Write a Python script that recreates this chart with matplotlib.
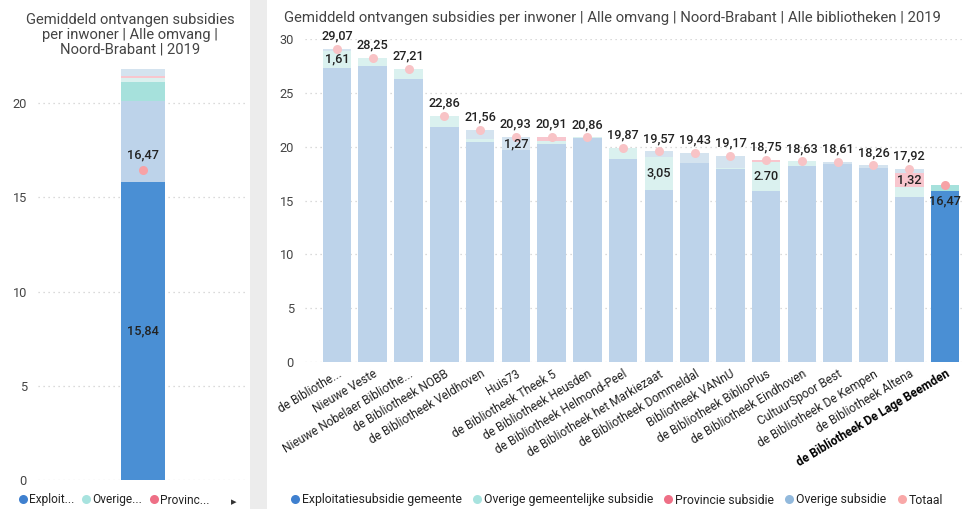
import matplotlib
matplotlib.use("Agg")
import matplotlib.pyplot as plt
from matplotlib.patches import Rectangle
from matplotlib.lines import Line2D
import numpy as np

plt.rcParams['font.family'] = ['Roboto', 'DejaVu Sans']

# ---------------- data ----------------
libraries = [
    "de Bibliothe...", "Nieuwe Veste", "Nieuwe Nobelaer Bibliothe...",
    "de Bibliotheek NOBB", "de Bibliotheek Veldhoven", "Huis73",
    "de Bibliotheek Theek 5", "de Bibliotheek Heusden",
    "de Bibliotheek Helmond-Peel", "de Bibliotheek het Markiezaat",
    "de Bibliotheek Dommeldal", "Bibliotheek VANnU",
    "de Bibliotheek BiblioPlus", "de Bibliotheek Eindhoven",
    "CultuurSpoor Best", "de Bibliotheek De Kempen",
    "de Bibliotheek Altena", "de Bibliotheek De Lage Beemden",
]
exploitatie = [27.30, 27.45, 26.25, 21.85, 20.45, 19.66, 20.21, 20.77, 18.85,
               16.00, 18.45, 17.89, 15.88, 18.23, 18.38, 18.04, 15.35, 15.84]
overige_gem = [1.61, 0.80, 0.96, 1.01, 0.23, 0.00, 0.30, 0.09, 1.02,
               3.05, 0.00, 0.10, 2.70, 0.40, 0.00, 0.00, 0.93, 0.63]
provincie = [0.00, 0.00, 0.00, 0.00, 0.00, 0.00, 0.40, 0.00, 0.00,
             0.00, 0.00, 0.00, 0.17, 0.00, 0.00, 0.00, 1.32, 0.00]
overige_sub = [0.16, 0.00, 0.00, 0.00, 0.88, 1.27, 0.00, 0.00, 0.00,
               0.52, 0.98, 1.18, 0.00, 0.00, 0.23, 0.22, 0.32, 0.00]
totaal = [29.07, 28.25, 27.21, 22.86, 21.56, 20.93, 20.91, 20.86, 19.87,
          19.57, 19.43, 19.17, 18.75, 18.63, 18.61, 18.26, 17.92, 16.47]
highlight = "de Bibliotheek De Lage Beemden"

# left panel: province average bar (segments bottom->top) and selection total
left_segments = [15.84, 4.26, 1.03, 0.20, 0.10, 0.40]
left_total = 16.47

legend_labels = ["Exploitatiesubsidie gemeente", "Overige gemeentelijke subsidie",
                 "Provincie subsidie", "Overige subsidie", "Totaal"]

# ---------------- styles ----------------
C_FULL = ["#4a8fd4", "#a6e1dc", "#f08093", "#8fb8dc"]
C_FADE = ["#bdd3ea", "#daf1ef", "#f8c6ce", "#d4e3ef"]
C_TOT_FULL = "#f7a2a6"
C_TOT_FADE = "#f8c3c6"
TXT = "#222222"
TICK = "#444444"
GRID = "#cfcfcf"
VAL_FS = 9.2

fig = plt.figure(figsize=(9.66, 5.09), dpi=100)
W, H = 966, 509

def ax_rect(x0, y_top, x1, y_bot):
    return [x0 / W, 1 - y_bot / H, (x1 - x0) / W, (y_bot - y_top) / H]

# gray separator band
fig.patches.append(Rectangle((250 / W, 0), 17 / W, 1, transform=fig.transFigure,
                             facecolor="#ececec", edgecolor="none", zorder=0))

def style_axes(ax, yticks):
    for s in ax.spines.values():
        s.set_visible(False)
    ax.set_yticks(yticks)
    ax.tick_params(axis='y', length=0, labelsize=9.2, colors=TICK, pad=8)
    ax.tick_params(axis='x', length=0)
    ax.yaxis.grid(True, linestyle=(0, (1, 3)), color=GRID, linewidth=0.9)
    ax.set_axisbelow(True)

# ---------------- left panel ----------------
axL = fig.add_axes(ax_rect(38, 56, 248, 480))
left_colors = [C_FULL[0], C_FADE[0], C_FULL[1], C_FADE[1], C_FADE[2], C_FADE[3]]
bottom = 0
for v, c in zip(left_segments, left_colors):
    axL.bar(0, v, bottom=bottom, width=0.42, color=c, edgecolor="none", zorder=2)
    bottom += v
axL.plot([0], [left_total], 'o', color=C_TOT_FULL, markersize=6.5, zorder=4,
         markeredgewidth=0)
axL.annotate(f"{left_total:.2f}".replace(".", ","), (0, left_total), xytext=(0, 6),
             textcoords="offset points", ha="center", va="bottom", fontsize=VAL_FS,
             color=TXT, zorder=5, fontweight="medium")
axL.text(0, left_segments[0] / 2, f"{left_segments[0]:.2f}".replace(".", ","),
         ha="center", va="center", fontsize=VAL_FS, color=TXT, zorder=5,
         fontweight="medium")
axL.set_xlim(-1, 1)
axL.set_ylim(0, 22.5)
axL.set_xticks([])
style_axes(axL, [0, 5, 10, 15, 20])

fig.text(130 / W, 1 - 35 / H,
         "Gemiddeld ontvangen subsidies\nper inwoner | Alle omvang |\nNoord-Brabant | 2019",
         ha="center", va="center", fontsize=10.6, color="#444444", linespacing=1.05)

# ---------------- right panel ----------------
axR = fig.add_axes(ax_rect(305, 39, 962, 362))
x = np.arange(len(libraries))
series = [exploitatie, overige_gem, provincie, overige_sub]
bottoms = np.zeros(len(libraries))
for si, vals in enumerate(series):
    vals = np.array(vals)
    colors = [C_FULL[si] if lib == highlight else C_FADE[si] for lib in libraries]
    axR.bar(x, vals, bottom=bottoms, width=0.8, color=colors, edgecolor="none", zorder=2)
    # inside labels for larger non-base segments
    if si > 0:
        for i, v in enumerate(vals):
            if v >= 1.25:
                txt = f"{v:.2f}".replace(".", ",") if libraries[i] != "de Bibliotheek BiblioPlus" else f"{v:.2f}"
                axR.text(x[i], bottoms[i] + v / 2, txt, ha="center", va="center",
                         fontsize=VAL_FS, color=TXT, zorder=5, fontweight="medium")
    bottoms += vals

for i, t in enumerate(totaal):
    hl = libraries[i] == highlight
    axR.plot([x[i]], [t], 'o', color=C_TOT_FULL if hl else C_TOT_FADE,
             markersize=6.5, markeredgewidth=0, zorder=4)
    lbl = f"{t:.2f}".replace(".", ",")
    if hl:
        axR.text(x[i], exploitatie[i] - 0.85, lbl, ha="center", va="center",
                 fontsize=VAL_FS, color=TXT, zorder=5, fontweight="medium")
    else:
        axR.annotate(lbl, (x[i], t), xytext=(0, 4.5), textcoords="offset points",
                     ha="center", va="bottom", fontsize=VAL_FS, color=TXT, zorder=5,
                     fontweight="medium")

axR.set_xlim(-0.895, 17.475)
axR.set_ylim(0, 30)
style_axes(axR, [0, 5, 10, 15, 20, 25, 30])
axR.set_xticks(x)
axR.set_xticklabels(libraries, rotation=31, ha="right", rotation_mode="anchor",
                    fontsize=8.6, color=TXT)
axR.tick_params(axis='x', pad=4)
for lab in axR.get_xticklabels():
    if lab.get_text() == highlight:
        lab.set_fontweight("bold")
        lab.set_color("#000000")

fig.text(284 / W, 1 - 18 / H,
         "Gemiddeld ontvangen subsidies per inwoner | Alle omvang | Noord-Brabant | Alle bibliotheken | 2019",
         ha="left", va="center", fontsize=10.7, color="#444444")

# ---------------- legends ----------------
leg_colors = ["#3f80cf", "#a8e3df", "#ee6f86", "#92b9dc", "#f9a8a8"]
handles = [Line2D([], [], marker='o', linestyle='none', color=c, markersize=6.5,
                  markeredgewidth=0) for c in leg_colors]
fig.legend(handles, legend_labels, loc="center left", bbox_to_anchor=(284 / W, 1 - 500 / H),
           ncol=5, frameon=False, fontsize=8.8, handletextpad=0.05, columnspacing=0.75,
           borderaxespad=0, handlelength=1.0, labelcolor=TXT)

short = ["Exploit...", "Overige...", "Provinc..."]
fig.legend(handles[:3], short, loc="center left", bbox_to_anchor=(12 / W, 1 - 500 / H),
           ncol=3, frameon=False, fontsize=8.6, handletextpad=0.05, columnspacing=0.45,
           borderaxespad=0, handlelength=1.0, labelcolor=TXT)
fig.text(234 / W, 1 - 502 / H, "\u25b8", ha="center", va="center", fontsize=8,
         color="#333333", family="DejaVu Sans")

fig.savefig("out.png", dpi=100)
